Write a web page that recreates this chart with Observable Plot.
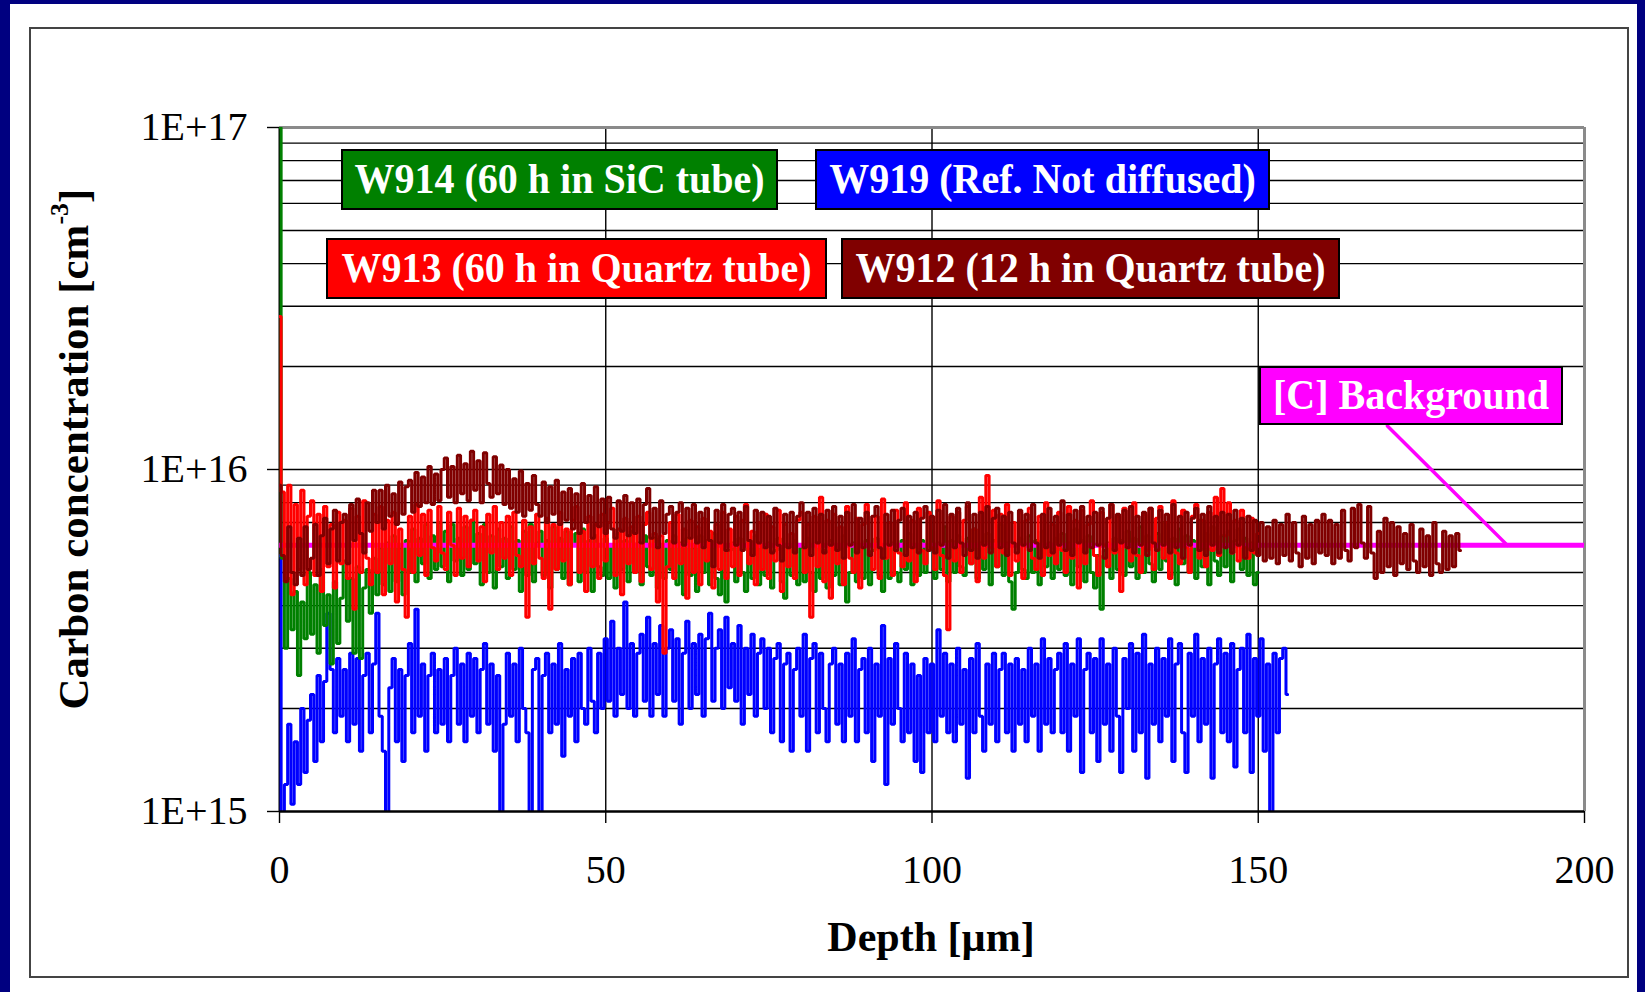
<!DOCTYPE html>
<html><head><meta charset="utf-8">
<script src="https://cdn.jsdelivr.net/npm/d3@7"></script>
<script src="https://cdn.jsdelivr.net/npm/@observablehq/plot@0.6"></script>
<style>
html,body{margin:0;padding:0;background:#000080;}
#page{position:relative;width:1645px;height:992px;overflow:hidden;background:#000080;}
#panel{position:absolute;left:10px;top:4px;width:1627px;height:988px;background:#fff;}
#frame{position:absolute;left:29px;top:27px;width:1596px;height:947px;border:2px solid #444;}
#chart{position:absolute;left:0;top:0;}
.lab{position:absolute;box-sizing:border-box;border:2px solid #000;color:#fff;font-family:"Liberation Serif","Times New Roman",serif;font-weight:bold;font-size:40px;line-height:1;display:flex;align-items:center;justify-content:center;white-space:nowrap;padding-bottom:2px;}
.lab span{display:inline-block;transform:scaleY(1.08);}
.title{position:absolute;font-family:"Liberation Serif","Times New Roman",serif;font-weight:bold;font-size:42px;color:#000;white-space:nowrap;line-height:1;}
</style></head>
<body>
<div id="page">
  <div id="panel"></div>
  <div id="frame"></div>
  <div id="chart"></div>
</div>
<script>
// ---- data (concentration in units of 1E15 cm^-3, depth sampled every 0.5 µm) ----
const depthStep = 0.5;
const seriesNames = ["W914 (60 h in SiC tube)", "W919 (Ref. Not diffused)", "W913 (60 h in Quartz tube)", "W912 (12 h in Quartz tube)"];
const seriesColors = ["#008000", "#0000ff", "#ff0000", "#800000"];
const backgroundLabel = "[C] Background";
const backgroundLevel = [6];
const calloutDepth = [169.8, 188.2];
const calloutConc = [13.4, 6];

const w912 = [
9.0,5.6,4.7,6.8,5.0,4.6,6.3,4.9,6.8,5.1,
5.5,6.9,4.9,6.4,7.2,5.3,6.7,7.6,5.4,7.0,
7.4,5.3,7.9,6.2,8.2,6.5,5.7,8.0,6.6,8.7,
7.0,8.7,6.7,9.0,7.3,8.5,6.9,9.2,7.4,8.9,
9.3,7.5,9.8,7.8,9.5,8.0,10.2,7.9,9.7,8.1,
10.0,10.8,8.3,10.2,8.0,11.0,8.5,10.4,8.1,11.3,
8.7,10.6,8.0,11.2,9.1,8.3,10.9,8.5,10.3,7.9,
10.0,7.7,9.4,7.5,9.9,7.3,9.1,7.6,9.6,7.9,
7.3,9.2,7.0,8.9,7.4,9.3,6.9,8.6,7.1,8.8,
6.7,8.5,6.5,9.1,7.0,8.4,6.3,8.9,6.8,8.2,
6.5,8.3,6.7,6.3,8.1,6.6,8.4,6.4,8.0,6.5,
8.2,6.1,7.9,8.8,6.3,7.7,5.9,8.1,6.5,7.4,
7.8,6.1,7.5,8.0,6.0,7.7,6.3,7.9,6.1,7.5,
5.9,7.7,6.2,5.2,7.6,6.1,7.9,5.8,7.4,7.7,
6.0,7.5,5.8,7.8,6.2,5.6,7.6,6.1,7.5,5.9,
7.3,5.7,7.7,6.0,5.4,7.4,5.9,7.5,5.7,7.3,
8.0,5.9,7.5,5.6,7.7,6.1,7.4,5.7,7.6,6.0,
7.8,5.8,7.3,5.5,7.5,6.0,7.9,5.7,7.2,5.9,
7.5,5.6,7.3,7.8,5.9,5.5,7.4,6.0,7.6,5.8,
7.1,7.7,5.6,7.3,5.9,7.5,5.7,7.2,7.8,5.8,
7.3,5.7,7.6,6.0,7.9,5.5,7.4,5.9,7.7,6.1,
5.6,8.0,5.8,7.4,5.5,7.5,6.0,7.8,5.7,7.2,
7.7,5.9,7.3,5.6,7.5,6.1,5.7,7.6,6.0,7.4,
5.8,7.9,6.1,5.5,7.4,5.9,7.7,5.7,7.3,6.0,
8.1,5.8,7.4,5.6,7.6,6.1,7.8,5.7,7.3,5.9,
7.5,6.0,7.7,5.5,7.2,7.9,5.8,7.4,6.1,7.6,
5.9,7.8,5.7,7.3,6.0,7.5,5.6,7.7,6.1,5.8,
7.6,6.0,7.4,5.7,7.9,5.9,7.3,5.5,7.5,6.0,
7.2,7.7,5.8,7.4,5.6,7.8,6.0,7.3,5.7,7.5,
5.9,7.4,5.7,7.6,6.0,7.2,5.5,7.3,5.8,7.1,
5.6,7.0,5.4,6.8,5.5,7.1,5.3,6.9,5.6,7.4,
5.4,7.0,5.7,5.2,7.3,5.5,6.9,5.3,7.1,5.7,
7.4,5.6,7.1,5.3,6.9,5.5,7.6,5.8,5.4,7.7,
5.9,7.9,6.1,5.5,7.8,5.7,4.8,6.6,5.0,7.2,
5.2,7.0,4.9,6.8,5.3,6.5,5.1,6.9,5.4,5.0,
6.7,5.2,6.4,4.9,7.0,5.3,5.0,6.6,5.1,6.4,
5.2,6.5,5.8];

const w913 = [
28,8.6,4.8,9.0,4.3,7.9,5.1,8.7,4.6,7.3,
8.1,4.9,7.4,4.4,7.8,5.2,6.9,4.5,7.5,5.3,
7.1,4.8,7.7,3.9,7.3,5.0,8.1,5.5,4.6,7.4,
5.0,7.8,4.3,7.1,5.3,7.5,4.1,6.7,5.1,3.7,
7.3,5.0,7.9,5.6,7.4,4.9,7.6,5.9,5.4,7.8,
5.7,5.1,7.5,6.0,4.9,7.7,5.5,7.3,5.2,7.1,
7.6,5.4,6.8,4.7,7.4,5.7,7.8,5.1,7.0,5.5,
7.3,4.9,7.5,5.6,5.2,7.1,3.7,6.8,5.3,7.4,
5.5,4.8,7.2,3.9,6.9,5.1,7.5,5.4,6.7,4.6,
7.1,7.8,5.0,6.6,4.4,7.3,5.2,6.9,4.8,7.4,
5.4,7.0,7.7,4.9,6.7,4.3,7.2,5.3,6.8,5.0,
7.3,4.7,6.9,7.5,5.1,6.5,4.1,6.4,2.9,5.2,
7.0,4.8,7.4,5.3,6.7,4.2,7.1,5.0,6.8,4.6,
7.2,5.4,6.6,4.5,6.9,5.1,7.5,4.8,6.7,5.2,
7.3,4.9,7.1,7.9,5.3,6.6,4.6,7.0,5.1,7.4,
4.8,6.8,5.4,7.6,4.4,6.9,5.2,6.5,4.8,7.1,
7.5,5.0,6.9,3.7,7.3,5.2,8.3,4.7,7.1,4.2,
7.4,5.3,6.8,4.6,7.8,5.5,5.0,7.2,4.5,6.9,
7.9,5.6,5.1,7.3,4.8,8.2,5.5,7.0,4.9,7.6,
5.7,5.2,8.0,5.4,7.1,4.7,7.7,5.8,5.3,7.5,
5.9,5.1,8.1,5.6,4.9,3.4,7.3,5.4,7.5,5.0,
7.1,7.8,5.3,6.7,4.7,8.3,5.5,9.6,5.9,7.6,
5.2,7.4,5.7,7.9,4.9,7.0,5.4,7.5,4.8,7.1,
7.7,5.5,5.1,7.3,4.9,8.0,5.6,6.9,5.3,7.5,
5.8,5.0,7.8,5.5,7.1,4.5,7.6,5.3,6.9,8.1,
5.6,4.9,7.5,6.0,5.2,7.9,5.7,7.3,4.4,7.7,
5.9,5.4,8.0,5.6,5.0,7.4,5.8,7.7,5.1,7.2,
7.8,5.5,7.0,4.8,8.1,5.7,5.3,7.6,5.9,5.0,
7.3,7.9,5.5,7.1,5.2,7.5,5.8,8.3,5.6,8.8,
6.4,8.0,5.7,7.1,5.4,7.6,5.9,5.5,7.2,5.7,
6.5];

const w914 = [
100,5.5,3.0,4.8,3.4,4.4,2.5,4.1,3.2,5.0,
3.3,4.6,2.9,5.1,3.5,4.3,2.7,4.7,3.1,4.2,
5.4,3.6,4.8,2.9,5.2,2.8,4.5,5.1,3.8,5.5,
4.3,5.9,4.6,6.1,4.4,6.4,4.7,5.9,4.3,6.2,
5.0,6.7,4.7,6.3,5.3,6.9,4.8,6.4,5.1,7.0,
5.2,6.6,4.7,6.9,5.4,6.3,4.9,6.8,5.1,7.1,
5.3,6.5,4.6,6.9,5.0,6.4,4.5,6.7,5.2,6.3,
4.8,6.8,5.1,6.2,4.4,6.6,4.9,6.9,4.7,6.1,
6.6,4.9,6.2,4.5,6.8,5.1,6.3,4.8,6.6,4.6,
6.0,6.5,4.7,6.7,5.0,6.2,4.4,6.4,5.2,4.9,
6.3,4.8,6.0,4.5,6.5,5.1,6.2,4.7,6.6,5.0,
6.1,4.6,6.4,5.2,4.9,6.3,4.5,6.0,4.8,6.2,
5.1,6.4,4.6,6.1,4.3,6.3,4.9,5.9,4.4,6.4,
5.0,6.2,4.6,6.5,4.8,4.3,6.0,4.1,5.8,6.1,
4.7,6.3,5.0,4.4,6.2,4.8,6.4,4.6,5.9,4.9,
6.1,4.5,5.8,6.3,4.7,4.2,6.0,4.9,6.2,4.6,
5.9,4.7,6.3,5.0,4.4,6.1,4.8,5.8,4.5,6.2,
4.9,6.0,4.6,6.4,4.1,5.0,6.1,4.7,5.9,4.8,
6.2,4.6,5.8,6.3,4.9,4.4,6.0,4.8,6.1,5.0,
4.7,6.2,5.1,6.5,4.6,5.9,4.9,6.2,5.0,6.0,
6.6,4.8,6.1,5.1,6.8,4.7,6.2,5.0,6.4,5.2,
4.9,6.3,5.3,6.7,4.8,6.1,5.1,6.5,4.6,6.2,
5.2,6.9,4.9,6.1,4.7,3.9,5.0,6.3,5.1,4.8,
6.4,5.0,6.2,4.6,6.6,5.2,6.1,4.8,6.3,5.1,
6.5,4.9,6.1,4.6,6.7,5.2,6.2,4.7,6.4,5.0,
4.5,5.6,3.9,5.8,6.1,4.8,6.3,5.1,6.2,4.9,
6.6,5.2,6.3,4.8,6.8,5.0,6.4,5.3,4.7,6.5,
5.1,7.0,5.4,4.9,6.3,4.6,6.7,5.3,6.4,5.0,
6.2,4.8,7.1,5.2,6.5,4.6,6.8,5.4,4.9,6.4,
5.2,6.6,4.7,6.2,6.7,5.1,6.3,4.9,6.1,4.6,
5.0];

const w919 = [
5.6,0.9,1.2,1.8,1.05,1.6,1.2,2.0,1.3,1.85,
2.2,1.4,2.5,1.6,2.4,3.8,2.6,1.7,2.8,1.9,
2.6,1.6,2.9,1.8,2.8,1.5,2.5,2.9,1.7,2.7,
3.8,1.9,1.5,0.9,2.3,2.8,1.6,2.6,1.4,2.5,
3.1,1.7,3.9,1.9,2.7,1.5,2.5,2.9,1.7,2.6,
1.8,2.8,1.6,2.5,3.0,1.8,2.7,1.6,2.9,1.9,
2.8,1.7,2.6,3.1,1.8,2.7,1.5,2.5,0.95,1.8,
2.9,1.9,2.7,1.6,3.0,2.0,1.7,0.95,2.6,2.8,
0.95,2.5,2.9,1.7,2.7,1.8,3.1,1.45,2.6,1.9,
2.8,1.6,2.9,2.0,1.8,3.0,2.1,1.7,2.9,2.0,
3.2,2.1,3.6,1.9,3.0,2.2,4.1,2.0,3.1,1.9,
2.9,3.3,2.1,3.7,1.9,3.1,2.2,3.5,1.9,3.0,
3.4,2.1,3.2,1.8,2.9,3.6,2.0,3.1,2.2,3.3,
1.9,3.2,3.8,2.1,3.0,3.4,2.0,3.7,2.3,3.1,
2.1,3.5,1.8,3.0,2.2,3.3,1.9,2.9,3.2,2.0,
3.0,1.7,2.8,3.1,1.6,2.7,2.9,1.5,2.6,3.0,
1.9,3.3,1.5,2.8,3.1,1.7,2.9,2.0,1.6,2.7,
3.0,1.8,2.7,1.6,2.9,1.9,3.2,1.6,2.6,2.8,
1.7,3.0,1.4,2.7,1.9,3.5,1.2,2.8,1.8,3.1,
2.0,1.6,2.9,1.7,2.7,1.4,2.5,1.3,2.8,1.7,
2.7,1.6,3.4,1.9,2.9,1.7,2.7,1.6,3.0,1.8,
2.6,1.25,2.8,1.7,3.1,1.9,1.5,2.7,1.8,2.9,
1.6,2.6,2.9,1.7,2.7,1.5,2.8,1.8,2.6,1.6,
3.0,1.9,2.7,1.5,3.2,1.8,2.8,1.7,2.6,2.9,
1.7,3.1,1.5,2.7,1.9,3.2,1.3,2.6,2.9,1.7,
2.8,1.4,3.2,1.8,2.7,1.5,3.0,1.9,1.3,2.8,
2.0,3.1,1.5,2.9,1.7,3.3,1.25,2.7,1.8,3.0,
1.6,2.8,1.9,3.2,1.4,2.7,3.1,1.7,1.3,2.9,
1.9,3.3,1.6,2.8,1.8,3.0,1.25,2.7,3.2,1.7,
2.9,1.6,3.1,1.35,2.6,3.0,1.7,3.3,1.3,2.8,
1.9,3.2,1.5,2.7,0.95,2.9,1.7,2.8,3.0,2.2];

// ---- axes ----
const xTicks = [0, 50, 100, 150, 200];
const xGrid = [50, 100, 150];
const yTicks = [1, 10, 100];
const yTickLabels = ["1E+15", "1E+16", "1E+17"];
const yMinorGrid = [2,3,4,5,6,7,8,9,10,20,30,40,50,60,70,80,90];
const xLabel = "Depth [µm]";
const yLabel = "Carbon concentration [cm";
const yLabelSup = "-3";

const rows = (vals) => vals.map((v, i) => ({depth: i * depthStep, conc: v}));
const callout = calloutDepth.map((d, i) => ({depth: d, conc: calloutConc[i]}));

const lineOpts = (color) => ({x: "depth", y: "conc", stroke: color, strokeWidth: 3, clip: true, curve: "step", strokeLinejoin: "miter"});

const chart = Plot.plot({
  width: 1645, height: 992,
  marginLeft: 279, marginRight: 61, marginTop: 127, marginBottom: 181,
  style: {fontFamily: '"Liberation Serif","Times New Roman",serif', fontSize: "40px", color: "#000", background: "transparent", overflow: "visible"},
  x: {domain: [0, 200]},
  y: {type: "log", domain: [1, 100]},
  marks: [
    Plot.ruleY(yMinorGrid, {stroke: "#000", strokeWidth: 1.4}),
    Plot.ruleX(xGrid, {stroke: "#000", strokeWidth: 1.4}),
    Plot.ruleY([100], {stroke: "#8a8a8a", strokeWidth: 3}),
    Plot.ruleX([200], {stroke: "#8a8a8a", strokeWidth: 3}),
    Plot.ruleX([0], {stroke: "#000", strokeWidth: 2}),
    Plot.line(rows(w919), lineOpts(seriesColors[1])),
    Plot.line(rows(w914), lineOpts(seriesColors[0])),
    Plot.ruleY(backgroundLevel, {stroke: "#ff00ff", strokeWidth: 5}),
    Plot.line(callout, {x: "depth", y: "conc", stroke: "#ff00ff", strokeWidth: 3.5}),
    Plot.line(rows(w913), lineOpts(seriesColors[2])),
    Plot.line(rows(w912), lineOpts(seriesColors[3])),
    Plot.ruleY([1], {stroke: "#000", strokeWidth: 2.5}),
    Plot.axisX({ticks: xTicks, tickSize: 12, tickPadding: 31, label: null, tickFormat: (d) => String(d), strokeWidth: 1.4}),
    Plot.axisY({ticks: yTicks, tickSize: 12, tickPadding: 20, label: null, tickFormat: (d) => yTickLabels[yTicks.indexOf(d)], strokeWidth: 1.4})
  ]
});
document.getElementById("chart").appendChild(chart);

// ---- titles and labels (HTML overlays) ----
const page = document.getElementById("page");
function addDiv(cls, html, css) {
  const el = document.createElement("div");
  el.className = cls;
  el.innerHTML = html;
  Object.assign(el.style, css);
  page.appendChild(el);
  return el;
}
addDiv("title", xLabel, {left: "931px", top: "937px", transform: "translate(-50%,-50%)"});
addDiv("title", yLabel + '<sup style="font-size:26px;position:relative;top:-4px">' + yLabelSup + '</sup>]', {left: "73px", top: "449px", fontSize: "43px", transform: "translate(-50%,-50%) rotate(-90deg)"});

const boxes = [
  {text: seriesNames[0], color: seriesColors[0], l: 341, t: 149, w: 437, h: 61},
  {text: seriesNames[1], color: seriesColors[1], l: 815, t: 149, w: 455, h: 61},
  {text: seriesNames[2], color: seriesColors[2], l: 326, t: 238, w: 501, h: 61},
  {text: seriesNames[3], color: seriesColors[3], l: 841, t: 238, w: 499, h: 61},
  {text: backgroundLabel, color: "#ff00ff", l: 1259, t: 366, w: 304, h: 59}
];
for (const b of boxes) {
  addDiv("lab", "<span>" + b.text + "</span>", {left: b.l + "px", top: b.t + "px", width: b.w + "px", height: b.h + "px", background: b.color});
}
</script>
</body></html>
